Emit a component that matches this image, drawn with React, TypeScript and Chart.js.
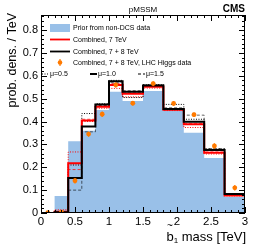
import React, { useEffect, useRef } from "react";
import { Chart, registerables } from "chart.js";
Chart.register(...registerables);

// ---- data ----
const binEdges = [0, 0.2, 0.4, 0.6, 0.8, 1.0, 1.2, 1.5, 1.8, 2.1, 2.4, 2.7, 3.0];
const priorNonDCS = [0, 0.074, 0.314, 0.36, 0.45, 0.53, 0.49, 0.534, 0.45, 0.351, 0.241, 0.07];
const comb7Mu10 = [0, 0.006, 0.218, 0.405, 0.465, 0.56, 0.522, 0.552, 0.452, 0.388, 0.264, 0.077];
const comb7Mu05 = [0, 0.014, 0.267, 0.4, 0.458, 0.545, 0.508, 0.546, 0.448, 0.374, 0.258, 0.075];
const comb7Mu15 = [0, 0.003, 0.19, 0.41, 0.47, 0.566, 0.528, 0.556, 0.455, 0.392, 0.267, 0.078];
const comb78Mu10 = [0, 0.003, 0.153, 0.378, 0.475, 0.576, 0.53, 0.558, 0.455, 0.399, 0.276, 0.083];
const comb78Mu05 = [0, 0.006, 0.21, 0.435, 0.478, 0.58, 0.505, 0.562, 0.475, 0.41, 0.28, 0.08];
const comb78Mu15 = [0, 0.002, 0.1, 0.355, 0.468, 0.57, 0.535, 0.56, 0.46, 0.428, 0.282, 0.085];
const higgsMass = [0.1, 0.3, 0.5, 0.7, 0.9, 1.1, 1.35, 1.65, 1.95, 2.25, 2.55, 2.85];
const higgsDens = [0.001, 0.004, 0.141, 0.345, 0.432, 0.56, 0.48, 0.566, 0.479, 0.43, 0.293, 0.11];
const higgsErr = [0.008, 0.008, 0.012, 0.012, 0.012, 0.012, 0.01, 0.01, 0.01, 0.01, 0.012, 0.012];
const xTickValues = [0, 0.5, 1, 1.5, 2, 2.5, 3];
const yTickValues = [0, 0.1, 0.2, 0.3, 0.4, 0.5, 0.6, 0.7, 0.8];
const legendLabels = [
  "Prior from non-DCS data",
  "Combined, 7 TeV",
  "Combined, 7 + 8 TeV",
  "Combined, 7 + 8 TeV, LHC Higgs data",
];
const muLabels = ["\u03bc=0.5", "\u03bc=1.0", "\u03bc=1.5"];
const plotTitle = "pMSSM";
const expLabel = "CMS";
const yTitle = "prob. dens. / TeV";

const FONT = '"Liberation Sans", Arial, Helvetica, sans-serif';
const BLUE = "rgb(153,192,232)";
const ORANGE = "rgb(255,122,0)";
const RED = "rgb(255,0,0)";
const DOT = [1, 1.5];
const THIN = [3, 2];

function steps(values: number[]) {
  const pts = [{ x: binEdges[0], y: 0 }];
  values.forEach((v, i) => pts.push({ x: binEdges[i], y: v }));
  pts.push({ x: binEdges[binEdges.length - 1], y: values[values.length - 1] });
  pts.push({ x: binEdges[binEdges.length - 1], y: 0 });
  return pts;
}

function stepDs(values: number[], color: string, width: number, dash: number[]) {
  return {
    data: steps(values),
    borderColor: color,
    borderWidth: width,
    borderDash: dash,
    stepped: true,
    pointRadius: 0,
    fill: false,
  };
}

const errorBars = {
  id: "errorBars",
  beforeDatasetDraw(chart: any, args: any) {
    if (args.index !== 0) return;
    const { ctx, scales } = chart;
    ctx.save();
    ctx.strokeStyle = ORANGE;
    ctx.lineWidth = 1.2;
    higgsMass.forEach((m, i) => {
      const px = scales.x.getPixelForValue(m);
      ctx.beginPath();
      ctx.moveTo(px, scales.y.getPixelForValue(Math.max(0, higgsDens[i] - higgsErr[i])));
      ctx.lineTo(px, scales.y.getPixelForValue(higgsDens[i] + higgsErr[i]));
      ctx.stroke();
    });
    ctx.restore();
  },
};

const decorations = {
  id: "decorations",
  afterDatasetsDraw(chart: any) {
    const { ctx, chartArea: a, scales } = chart;
    const xs = scales.x;
    const ys = scales.y;
    ctx.save();
    ctx.strokeStyle = "#000";
    ctx.lineWidth = 1;
    ctx.strokeRect(a.left + 0.5, a.top + 0.5, a.right - a.left - 1, a.bottom - a.top - 1);
    ctx.beginPath();
    for (let i = 0; i <= 30; i++) {
      const px = Math.round(xs.getPixelForValue(i * 0.1)) + 0.5;
      const len = i % 5 === 0 ? 6 : 3;
      ctx.moveTo(px, a.bottom);
      ctx.lineTo(px, a.bottom - len);
      ctx.moveTo(px, a.top);
      ctx.lineTo(px, a.top + len);
    }
    for (let i = 0; i <= 43; i++) {
      const v = i * 0.02;
      if (v > ys.max) break;
      const py = Math.round(ys.getPixelForValue(v)) + 0.5;
      const len = i % 5 === 0 ? 6 : 3;
      ctx.moveTo(a.left, py);
      ctx.lineTo(a.left + len, py);
      ctx.moveTo(a.right, py);
      ctx.lineTo(a.right - len, py);
    }
    ctx.stroke();

    // legend
    ctx.font = `7px ${FONT}`;
    ctx.fillStyle = "#000";
    ctx.textBaseline = "middle";
    ctx.textAlign = "left";
    const lx0 = a.left + 9;
    const lx1 = a.left + 29;
    const tx = a.left + 32;
    const rows = [a.top + 13, a.top + 24.5, a.top + 36.5, a.top + 47.5, a.top + 59];
    ctx.fillStyle = BLUE;
    ctx.fillRect(lx0, rows[0] - 4, lx1 - lx0, 8);
    ctx.lineWidth = 1.8;
    ctx.strokeStyle = RED;
    ctx.beginPath();
    ctx.moveTo(lx0, rows[1]);
    ctx.lineTo(lx1, rows[1]);
    ctx.stroke();
    ctx.strokeStyle = "#000";
    ctx.beginPath();
    ctx.moveTo(lx0, rows[2]);
    ctx.lineTo(lx1, rows[2]);
    ctx.stroke();
    const mx = (lx0 + lx1) / 2;
    ctx.strokeStyle = ORANGE;
    ctx.lineWidth = 1.2;
    ctx.beginPath();
    ctx.moveTo(mx, rows[3] - 3.5);
    ctx.lineTo(mx, rows[3] + 3.5);
    ctx.stroke();
    ctx.fillStyle = ORANGE;
    ctx.beginPath();
    ctx.arc(mx, rows[3], 2.3, 0, Math.PI * 2);
    ctx.fill();
    ctx.fillStyle = "#000";
    legendLabels.forEach((t, i) => ctx.fillText(t, tx, rows[i] + 0.5));

    // mu row
    const muX = [a.left + 1, a.left + 49, a.left + 97];
    const muStyle: [number, number[]][] = [
      [1, DOT],
      [2, []],
      [1, THIN],
    ];
    ctx.strokeStyle = "#000";
    muX.forEach((x0, i) => {
      ctx.lineWidth = muStyle[i][0];
      ctx.setLineDash(muStyle[i][1]);
      ctx.beginPath();
      ctx.moveTo(x0, rows[4]);
      ctx.lineTo(x0 + 7, rows[4]);
      ctx.stroke();
      ctx.setLineDash([]);
      ctx.fillText(muLabels[i], x0 + 8, rows[4] + 0.5);
    });

    // titles
    ctx.textBaseline = "alphabetic";
    ctx.font = `8px ${FONT}`;
    ctx.textAlign = "center";
    ctx.fillText(plotTitle, (a.left + a.right) / 2, 11.5);
    ctx.font = `bold 10px ${FONT}`;
    ctx.textAlign = "right";
    ctx.fillText(expLabel, a.right, 11.5);

    // y title
    ctx.save();
    ctx.font = `12.5px ${FONT}`;
    ctx.translate(16, a.top - 2);
    ctx.rotate(-Math.PI / 2);
    ctx.textAlign = "right";
    ctx.fillText(yTitle, 0, 0);
    ctx.restore();

    // x title: b~_1 mass [TeV]
    ctx.font = `13px ${FONT}`;
    ctx.textAlign = "right";
    const base = 240.5;
    const rest = " mass [TeV]";
    const restW = ctx.measureText(rest).width;
    const subX = a.right + 1 - restW;
    ctx.fillText(rest, a.right + 1, base);
    ctx.font = `8px ${FONT}`;
    const subW = ctx.measureText("1").width;
    ctx.fillText("1", subX, base + 2.5);
    ctx.font = `13px ${FONT}`;
    const bW = ctx.measureText("b").width;
    ctx.fillText("b", subX - subW, base);
    ctx.font = `10px ${FONT}`;
    ctx.textAlign = "center";
    ctx.fillText("~", subX - subW - bW / 2, base - 12);
    ctx.restore();
  },
};

export default function App() {
  const ref = useRef<HTMLCanvasElement | null>(null);
  useEffect(() => {
    if (!ref.current) return;
    const chart = new Chart(ref.current, {
      type: "line",
      data: {
        datasets: [
          {
            data: higgsMass.map((m, i) => ({ x: m, y: higgsDens[i] })),
            showLine: false,
            pointRadius: 2.4,
            pointBackgroundColor: ORANGE,
            pointBorderColor: ORANGE,
            pointBorderWidth: 0,
          } as any,
          stepDs(comb78Mu10, "#000", 2, []),
          stepDs(comb7Mu10, RED, 2, []),
          stepDs(comb78Mu05, "#000", 1, DOT),
          stepDs(comb78Mu15, "rgba(0,0,0,0.6)", 1, THIN),
          stepDs(comb7Mu05, RED, 1, DOT),
          stepDs(comb7Mu15, "rgba(255,0,0,0.7)", 1, THIN),
          {
            data: steps(priorNonDCS),
            borderColor: "rgba(0,0,0,0)",
            borderWidth: 0,
            backgroundColor: BLUE,
            stepped: true,
            pointRadius: 0,
            fill: "origin",
          } as any,
        ],
      },
      options: {
        animation: false,
        responsive: true,
        maintainAspectRatio: false,
        events: [],
        layout: { padding: { top: 15, right: 13, left: 0, bottom: 0 } },
        plugins: { legend: { display: false }, tooltip: { enabled: false }, title: { display: false } },
        scales: {
          x: {
            type: "linear",
            min: 0,
            max: 3,
            grid: { display: false, drawTicks: false },
            border: { display: false },
            afterBuildTicks: (s: any) => {
              s.ticks = xTickValues.map((v) => ({ value: v }));
            },
            afterFit: (s: any) => {
              s.height = 34;
            },
            ticks: {
              padding: 2,
              maxRotation: 0,
              autoSkip: false,
              color: "#000",
              font: { family: FONT, size: 11.5 },
              callback: (v: any) => String(v),
            },
          },
          y: {
            type: "linear",
            min: 0,
            max: 0.866,
            grid: { display: false, drawTicks: false },
            border: { display: false },
            afterBuildTicks: (s: any) => {
              s.ticks = yTickValues.map((v) => ({ value: v }));
            },
            afterFit: (s: any) => {
              s.width = 41;
            },
            ticks: {
              padding: 3,
              autoSkip: false,
              color: "#000",
              font: { family: FONT, size: 11 },
              callback: (v: any) => String(v),
            },
          },
        },
      },
      plugins: [errorBars, decorations],
    });
    return () => chart.destroy();
  }, []);
  return (
    <div style={{ position: "absolute", left: 0, top: 0, width: 258, height: 247, background: "#fff" }}>
      <canvas ref={ref} />
    </div>
  );
}
